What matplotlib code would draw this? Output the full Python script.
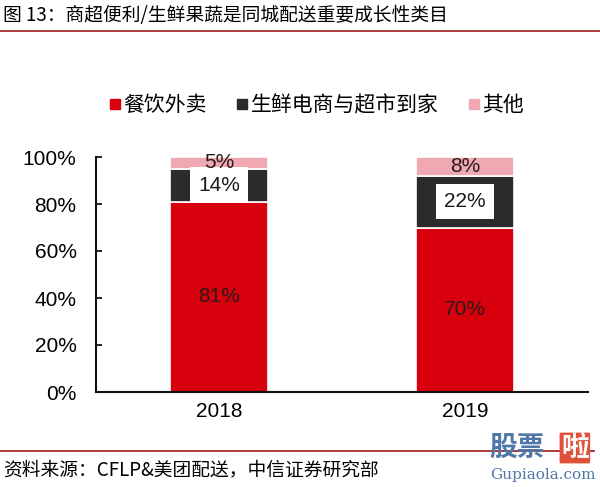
import matplotlib.pyplot as plt
from matplotlib.lines import Line2D

plt.rcParams["font.family"] = ["Liberation Sans", "Noto Sans CJK SC", "DejaVu Sans"]

years = ["2018", "2019"]
series_names = ["餐饮外卖", "生鲜电商与超市到家", "其他"]
food = [81, 70]
fresh = [14, 22]
other = [5, 8]
colors = ["#D9000D", "#2B2B2B", "#F0A9B2"]

fig = plt.figure(figsize=(6, 4.87), dpi=100)
ax = fig.add_axes([96 / 600, 95 / 487, 492 / 600, 235 / 487])

x = list(range(len(years)))
w = 0.4
bottoms = [0] * len(years)
for vals, color, name in zip([food, fresh, other], colors, series_names):
    vals_frac = [v / 100 for v in vals]
    ax.bar(x, vals_frac, w, bottom=bottoms, color=color, edgecolor="white",
           linewidth=1.2, label=name)
    for i, v in enumerate(vals_frac):
        yc = bottoms[i] + v / 2
        if name == "生鲜电商与超市到家":
            ax.text(x[i], yc, f"{vals[i]}%", ha="center", va="center", fontsize=15,
                    color="#1A1A1A",
                    bbox=dict(boxstyle="square,pad=0.4", fc="white", ec="none"))
        else:
            ax.text(x[i], yc, f"{vals[i]}%", ha="center", va="center", fontsize=15,
                    color="#2A1A1A")
    bottoms = [b + v for b, v in zip(bottoms, vals_frac)]

ax.set_xlim(-0.5, 1.5)
ax.set_ylim(0, 1.0)
ax.set_xticks(x)
ax.set_xticklabels(years, fontsize=15)
ax.set_yticks([0, 0.2, 0.4, 0.6, 0.8, 1.0])
ax.set_yticklabels(["0%", "20%", "40%", "60%", "80%", "100%"], fontsize=15)
ax.tick_params(axis="y", direction="in", length=4, width=1.2, pad=14)
ax.tick_params(axis="x", length=0, pad=7)
for s in ["top", "right"]:
    ax.spines[s].set_visible(False)
for s in ["left", "bottom"]:
    ax.spines[s].set_linewidth(1.5)
    ax.spines[s].set_color("#111111")

handles = [Line2D([], [], marker="s", linestyle="none", markersize=7, color=c) for c in colors]
fig.legend(handles, series_names, loc="center", bbox_to_anchor=(0.527, 1 - 105 / 487),
           ncol=3, frameon=False, handlelength=0.6, handletextpad=0.1, columnspacing=1.4,
           prop={"family": ["Noto Sans CJK SC"], "size": 15})

fig.text(0.005, 1 - 15 / 487, "图 13：商超便利/生鲜果蔬是同城配送重要成长性类目",
         fontsize=13.5, ha="left", va="center", family=["Noto Sans CJK SC"])
fig.add_artist(Line2D([0, 1], [1 - 31 / 487] * 2, color="#A52A2A", linewidth=1.3))
fig.add_artist(Line2D([0, 0.99], [1 - 451 / 487] * 2, color="#A52A2A", linewidth=1.3))
fig.text(0.005, 1 - 470 / 487, "资料来源：CFLP&美团配送，中信证券研究部",
         fontsize=13.5, ha="left", va="center", family=["Noto Sans CJK SC"])

# watermark
fig.text(0.815, 1 - 448 / 487, "股票", fontsize=20, fontweight="bold", color="#4F77A8",
         ha="left", va="center", family=["Noto Sans CJK SC"])
fig.text(0.935, 1 - 448 / 487, "啦", fontsize=20, fontweight="bold", color="white",
         ha="left", va="center", family=["Noto Sans CJK SC"],
         bbox=dict(boxstyle="round,pad=0.05", fc="#E0503A", ec="none"))
fig.text(0.905, 1 - 475 / 487, "Gupiaola.com", fontsize=11, color="#4F77A8",
         ha="center", va="center", family=["DejaVu Serif"])

fig.savefig("out.png", dpi=100)
